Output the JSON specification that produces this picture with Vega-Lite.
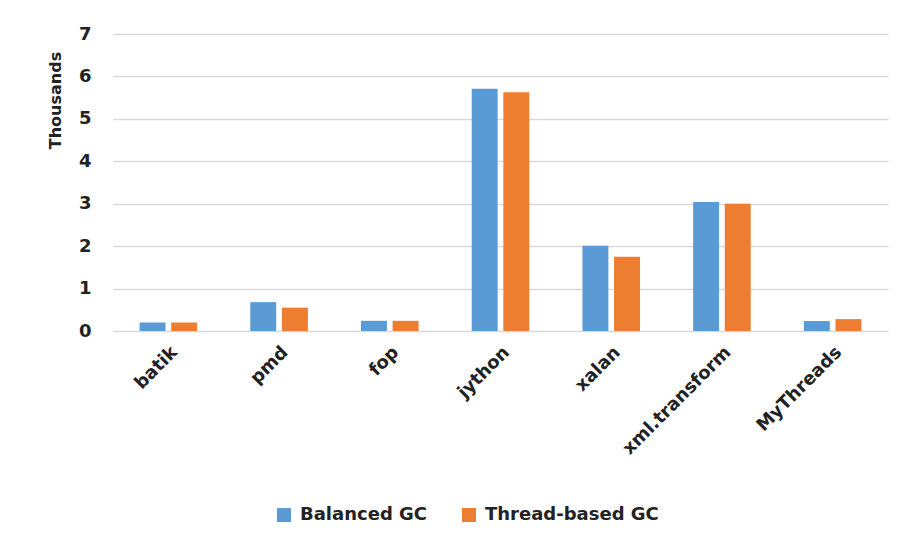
{
  "$schema": "https://vega.github.io/schema/vega-lite/v6.json",
  "autosize": {"type": "none"},
  "padding": {"left": 113, "top": 34, "right": 16, "bottom": 215},
  "width": 775,
  "height": 297,
  "background": "white",
  "config": {
    "view": {"stroke": null},
    "font": "DejaVu Sans"
  },
  "data": {
    "values": [
      {"benchmark": "batik", "gc": "Balanced GC", "value": 0.20},
      {"benchmark": "batik", "gc": "Thread-based GC", "value": 0.20},
      {"benchmark": "pmd", "gc": "Balanced GC", "value": 0.68},
      {"benchmark": "pmd", "gc": "Thread-based GC", "value": 0.55},
      {"benchmark": "fop", "gc": "Balanced GC", "value": 0.24},
      {"benchmark": "fop", "gc": "Thread-based GC", "value": 0.24},
      {"benchmark": "jython", "gc": "Balanced GC", "value": 5.71},
      {"benchmark": "jython", "gc": "Thread-based GC", "value": 5.63},
      {"benchmark": "xalan", "gc": "Balanced GC", "value": 2.01},
      {"benchmark": "xalan", "gc": "Thread-based GC", "value": 1.75},
      {"benchmark": "xml.transform", "gc": "Balanced GC", "value": 3.04},
      {"benchmark": "xml.transform", "gc": "Thread-based GC", "value": 3.0},
      {"benchmark": "MyThreads", "gc": "Balanced GC", "value": 0.235},
      {"benchmark": "MyThreads", "gc": "Thread-based GC", "value": 0.28}
    ]
  },
  "mark": {"type": "bar"},
  "encoding": {
    "x": {
      "field": "benchmark",
      "type": "nominal",
      "sort": null,
      "scale": {"paddingInner": 0.48, "paddingOuter": 0.24},
      "axis": {
        "title": null,
        "labelAngle": -45,
        "labelFont": "DejaVu Sans",
        "labelFontWeight": "bold",
        "labelFontSize": 18,
        "labelColor": "#222222",
        "labelPadding": 12,
        "labelLimit": 0,
        "ticks": false,
        "domain": false,
        "grid": false
      }
    },
    "xOffset": {
      "field": "gc",
      "type": "nominal",
      "scale": {"paddingInner": 0.18, "paddingOuter": 0}
    },
    "y": {
      "field": "value",
      "type": "quantitative",
      "scale": {"domain": [0, 7], "nice": false},
      "axis": {
        "title": "Thousands",
        "titleFont": "DejaVu Sans",
        "titleFontWeight": "bold",
        "titleFontSize": 16,
        "titleColor": "#222222",
        "titleAngle": -90,
        "titleAlign": "center",
        "titleBaseline": "bottom",
        "titleY": 66,
        "titleX": -50,
        "values": [0, 1, 2, 3, 4, 5, 6, 7],
        "labelFont": "DejaVu Sans",
        "labelFontWeight": "bold",
        "labelFontSize": 18,
        "labelColor": "#222222",
        "labelPadding": 22,
        "ticks": false,
        "domain": false,
        "gridColor": "#d9d9d9",
        "gridWidth": 1.5
      }
    },
    "color": {
      "field": "gc",
      "type": "nominal",
      "scale": {"domain": ["Balanced GC", "Thread-based GC"], "range": ["#5B9BD5", "#ED7D31"]},
      "legend": {
        "title": null,
        "orient": "none",
        "direction": "horizontal",
        "legendX": 162,
        "legendY": 472,
        "symbolType": "square",
        "symbolSize": 196,
        "symbolStrokeWidth": 0,
        "symbolOpacity": 1,
        "labelFont": "DejaVu Sans",
        "labelFontSize": 18,
        "labelFontWeight": "bold",
        "labelColor": "#222222",
        "labelOffset": 7,
        "labelLimit": 0,
        "columnPadding": 32
      }
    }
  }
}
